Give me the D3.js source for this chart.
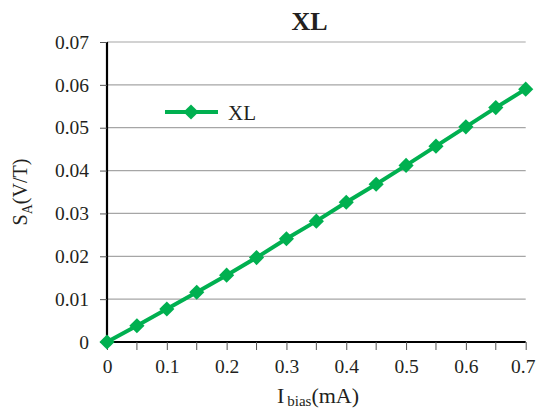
<!DOCTYPE html>
<html><head><meta charset="utf-8">
<script src="https://cdn.jsdelivr.net/npm/d3@7"></script>
<style>body{margin:0;background:#fff}svg{display:block}text{font-family:"Liberation Serif","Times New Roman",serif;fill:#231f20}</style>
</head><body><svg id="c" width="536" height="410"></svg>
<script>
const ibias = [0,0.05,0.1,0.15,0.2,0.25,0.3,0.35,0.4,0.45,0.5,0.55,0.6,0.65,0.7];
const sa = [0,0.0038,0.0077,0.0116,0.0156,0.0197,0.0241,0.0282,0.0326,0.0368,0.0412,0.0457,0.0502,0.0547,0.0590];
const xTicks = [0,0.1,0.2,0.3,0.4,0.5,0.6,0.7];
const xMinor = [0.05,0.15,0.25,0.35,0.45,0.55,0.65];
const yTicks = [0,0.01,0.02,0.03,0.04,0.05,0.06,0.07];
const seriesName = "XL";
const green = "#00B050";

const svg = d3.select("#c");
const x = d3.scaleLinear().domain([0,0.7]).range([107,525.7]);
const y = d3.scaleLinear().domain([0,0.07]).range([342,42]);

// gridlines
svg.append("g").selectAll("line").data(yTicks.filter(d=>d>0)).join("line")
  .attr("x1",x(0)).attr("x2",x(0.7)).attr("y1",d=>y(d)).attr("y2",d=>y(d))
  .attr("stroke","#a6a6a6").attr("stroke-width",1.2);

// y axis
const yAxis = d3.axisLeft(y).tickValues(yTicks).tickSize(7).tickPadding(11)
  .tickFormat(d=>d===0?"0":d3.format(".2f")(d));
const gy = svg.append("g").attr("transform",`translate(${x(0)},0)`).call(yAxis);
gy.select(".domain").attr("stroke","#000").attr("stroke-width",2.2).attr("d",`M0,${y(0)}V${y(0.07)}`);
gy.selectAll(".tick line").attr("stroke","#555").attr("stroke-width",1);
gy.selectAll(".tick text").attr("font-size",19.5).attr("font-family","Liberation Serif, serif").attr("fill","#231f20");

// x axis
const xAxis = d3.axisBottom(x).tickValues(xTicks).tickSize(8).tickPadding(9)
  .tickFormat(d=>d===0?"0":d3.format(".1f")(d));
const gx = svg.append("g").attr("transform",`translate(0,${y(0)})`).call(xAxis);
gx.select(".domain").attr("stroke","#000").attr("stroke-width",2.2).attr("d",`M${x(0)},0H${x(0.7)}`);
gx.selectAll(".tick line").attr("stroke","#555").attr("stroke-width",1);
gx.selectAll(".tick text").attr("font-size",19.5).attr("font-family","Liberation Serif, serif").attr("fill","#231f20")
  .attr("dx",d=>d===0.7?-3:0);
gx.append("g").selectAll("line").data(xMinor).join("line")
  .attr("x1",d=>x(d)).attr("x2",d=>x(d)).attr("y1",0).attr("y2",8)
  .attr("stroke","#555").attr("stroke-width",1);

// line + markers
const line = d3.line().x((d,i)=>x(ibias[i])).y(d=>y(d));
svg.append("path").datum(sa).attr("d",line).attr("fill","none")
  .attr("stroke",green).attr("stroke-width",4).attr("stroke-linejoin","round");
svg.append("g").selectAll("path").data(sa).join("path")
  .attr("transform",(d,i)=>`translate(${x(ibias[i])},${y(d)}) rotate(45)`)
  .attr("d",d3.symbol().type(d3.symbolSquare).size(115)).attr("fill",green);

// legend
const lg = svg.append("g");
lg.append("line").attr("x1",165).attr("x2",218).attr("y1",112).attr("y2",112)
  .attr("stroke",green).attr("stroke-width",4);
lg.append("path").attr("transform","translate(191,112) rotate(45)")
  .attr("d",d3.symbol().type(d3.symbolSquare).size(115)).attr("fill",green);
lg.append("text").attr("x",228).attr("y",119.5).attr("font-size",21).text(seriesName);

// title
svg.append("text").attr("x",309.5).attr("y",30).attr("text-anchor","middle")
  .attr("font-size",26).attr("font-weight","bold").attr("fill","#000").text(seriesName);

// y label
const yl = svg.append("text").attr("transform","translate(27,192) rotate(-90)")
  .attr("text-anchor","middle").attr("font-size",20);
yl.append("tspan").text("S");
yl.append("tspan").attr("font-size",14).attr("dy",5).text("A");
yl.append("tspan").attr("dy",-5).text("(V/T)");

// x label
const xl = svg.append("text").attr("x",318).attr("y",403).attr("text-anchor","middle").attr("font-size",22);
xl.append("tspan").text("I");
xl.append("tspan").attr("font-size",15).attr("dy",3).attr("dx",3).text("bias");
xl.append("tspan").attr("dy",-3).text("(mA)");
</script></body></html>
